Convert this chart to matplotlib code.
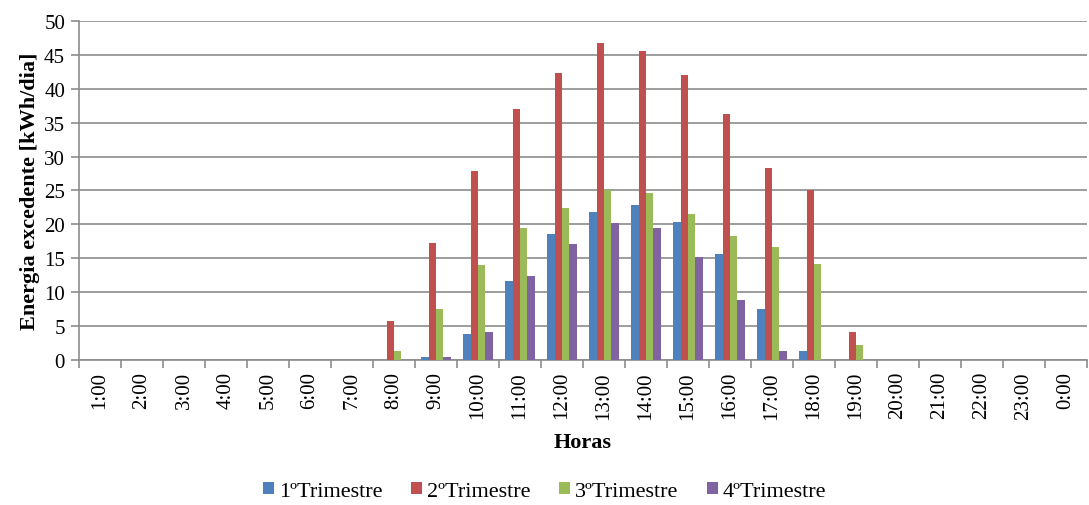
import matplotlib.pyplot as plt
import numpy as np

plt.rcParams['font.family'] = ['Liberation Serif', 'DejaVu Serif']

horas = ['1:00', '2:00', '3:00', '4:00', '5:00', '6:00', '7:00', '8:00', '9:00', '10:00',
         '11:00', '12:00', '13:00', '14:00', '15:00', '16:00', '17:00', '18:00', '19:00',
         '20:00', '21:00', '22:00', '23:00', '0:00']

t1 = [0, 0, 0, 0, 0, 0, 0, 0, 0.4, 3.8, 11.7, 18.6, 21.9, 22.8, 20.4, 15.7, 7.5, 1.3, 0, 0, 0, 0, 0, 0]
t2 = [0, 0, 0, 0, 0, 0, 0, 5.7, 17.3, 27.9, 37.0, 42.3, 46.7, 45.6, 42.1, 36.3, 28.3, 25.0, 4.2, 0, 0, 0, 0, 0]
t3 = [0, 0, 0, 0, 0, 0, 0, 1.3, 7.5, 14.0, 19.5, 22.4, 25.0, 24.7, 21.5, 18.3, 16.6, 14.2, 2.2, 0, 0, 0, 0, 0]
t4 = [0, 0, 0, 0, 0, 0, 0, 0, 0.4, 4.2, 12.4, 17.1, 20.2, 19.5, 15.2, 8.9, 1.3, 0, 0, 0, 0, 0, 0, 0]

series = [t1, t2, t3, t4]
nombres = ['1ºTrimestre', '2ºTrimestre', '3ºTrimestre', '4ºTrimestre']
colores = ['#4F81BD', '#C0504D', '#9BBB59', '#8064A2']

fig = plt.figure(figsize=(10.89, 5.06), dpi=100)
ax = fig.add_axes([0.0725, 0.2866, 0.9255, 0.6699])

x = np.arange(len(horas))
w = 0.175
for i, (vals, nom, col) in enumerate(zip(series, nombres, colores)):
    ax.bar(x + (i - 1.5) * w, vals, w, color=col, label=nom, zorder=3)

ax.set_xlim(-0.5, len(horas) - 0.5)
ax.set_ylim(0, 50)
ax.set_yticks(range(0, 51, 5))
ax.yaxis.grid(True, color='#8c8c8c', linewidth=1.2, zorder=0)

ax.set_xticks(x)
ax.set_xticklabels(horas, rotation=90, fontsize=15)
ax.tick_params(axis='x', length=0, pad=8)
ax.set_xticks(np.arange(-0.5, len(horas)), minor=True)
ax.tick_params(axis='x', which='minor', length=6, color='#8c8c8c', width=1.2)
ax.tick_params(axis='y', labelsize=15, length=6, color='#8c8c8c', width=1.2, pad=4)

for s in ['top', 'right']:
    ax.spines[s].set_visible(False)
for s in ['left', 'bottom']:
    ax.spines[s].set_color('#8c8c8c')
    ax.spines[s].set_linewidth(1.2)

ax.set_ylabel('Energia excedente [kWh/dia]', fontsize=16, fontweight='bold', labelpad=3)
ax.set_xlabel('Horas', fontsize=16, fontweight='bold', labelpad=10)

fig.legend(loc='lower center', bbox_to_anchor=(0.5, -0.018), ncol=4, frameon=False, fontsize=16,
           handlelength=0.5, handleheight=0.5, handletextpad=0.2, columnspacing=1.3,
           borderpad=0.1)

fig.savefig('out.png', dpi=100)
